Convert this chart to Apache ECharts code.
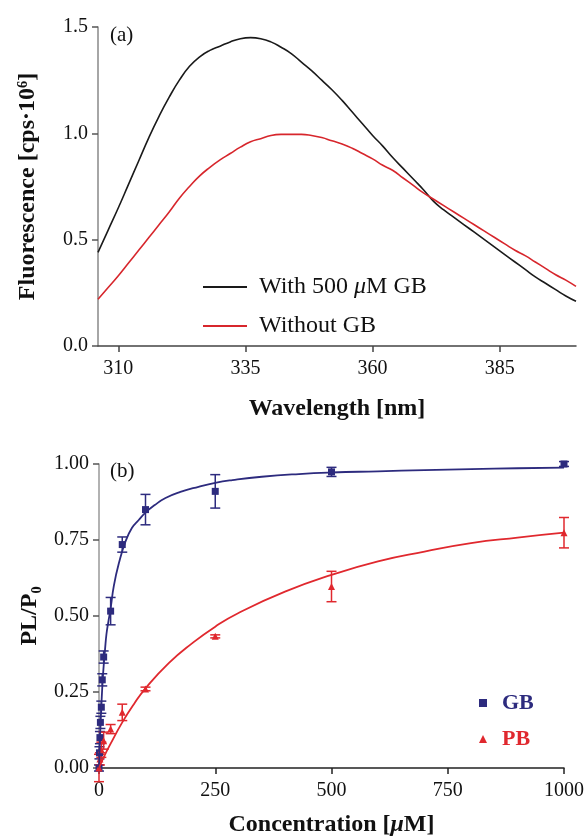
<!DOCTYPE html>
<html>
<head>
<meta charset="utf-8">
<script src="https://cdn.jsdelivr.net/npm/echarts@6/dist/echarts.min.js"></script>
<style>html,body{margin:0;padding:0;background:#fff}#c{width:587px;height:838px}</style>
</head>
<body>
<div id="c"></div>
<script>
// ---- Panel (a): fluorescence spectra ----
const wavelength = [306,308,310,312,314,316,318,320,322,324,326,328,330,332,334,336,338,340,342,344,346,348,350,352,354,356,358,360,362,364,366,368,370,372,374,376,378,380,382,384,386,388,390,392,394,396,398,400];
const withGB = [0.44,0.545,0.65,0.76,0.87,0.98,1.08,1.17,1.25,1.315,1.36,1.39,1.41,1.43,1.445,1.45,1.445,1.43,1.405,1.375,1.335,1.295,1.25,1.205,1.155,1.10,1.045,0.99,0.94,0.885,0.835,0.785,0.735,0.68,0.64,0.605,0.57,0.535,0.50,0.465,0.43,0.395,0.36,0.325,0.295,0.265,0.235,0.21];
const withoutGB = [0.22,0.275,0.33,0.39,0.45,0.51,0.57,0.63,0.695,0.75,0.80,0.84,0.875,0.905,0.935,0.96,0.975,0.99,0.995,0.995,0.995,0.99,0.98,0.965,0.95,0.93,0.905,0.88,0.85,0.825,0.79,0.755,0.72,0.69,0.66,0.63,0.60,0.57,0.54,0.51,0.48,0.45,0.425,0.395,0.365,0.335,0.31,0.28];
const wlTicks = [310,335,360,385];

// ---- Panel (b): binding data ----
const gbConc = [0,1,2,3,5,7,10,25,50,100,250,500,1000];
const gbMean = [0.0,0.05,0.10,0.15,0.20,0.29,0.365,0.516,0.735,0.85,0.91,0.974,1.0];
const gbErr  = [0.01,0.02,0.02,0.02,0.02,0.02,0.02,0.045,0.025,0.05,0.055,0.015,0.008];
const pbConc = [0,2,5,10,25,50,100,250,500,1000];
const pbMean = [0.0,0.03,0.06,0.09,0.128,0.183,0.26,0.433,0.597,0.774];
const pbErr  = [0.045,0.02,0.025,0.028,0.015,0.027,0.006,0.005,0.05,0.05];
// fitted curves
const gbFitConc = [0,1,2,4,6,8,10,13,16,20,25,32,43,57,71,85,100,120,143,175,214,250,287,350,430,500,600,700,800,900,1000];
const gbFitVal  = [0,0.05,0.095,0.17,0.235,0.29,0.335,0.39,0.44,0.48,0.525,0.60,0.675,0.745,0.79,0.815,0.84,0.865,0.888,0.908,0.925,0.938,0.947,0.958,0.967,0.972,0.976,0.980,0.983,0.986,0.988];
const pbFitConc = [0,10,25,50,75,100,150,200,250,300,400,500,600,700,800,900,1000];
const pbFitVal  = [0,0.035,0.08,0.15,0.21,0.262,0.345,0.41,0.465,0.51,0.58,0.635,0.68,0.712,0.74,0.758,0.774];

const SERIF = '"Liberation Serif","Times New Roman",serif';
const NAVY = '#2d2b7e';
const RED2 = '#e0282e';

function zip(a,b){return a.map((v,i)=>[v,b[i]]);}
function errData(c,m,e){return c.map((v,i)=>[v,m[i]-e[i],m[i]+e[i]]);}
function errRender(color){
  return function(params, api){
    const x = api.value(0);
    const lo = api.coord([x, api.value(1)]);
    const hi = api.coord([x, api.value(2)]);
    const w = 5;
    const st = {stroke: color, lineWidth: 1.5};
    return {type:'group', children:[
      {type:'line', shape:{x1:lo[0],y1:lo[1],x2:hi[0],y2:hi[1]}, style:st},
      {type:'line', shape:{x1:lo[0]-w,y1:lo[1],x2:lo[0]+w,y2:lo[1]}, style:st},
      {type:'line', shape:{x1:hi[0]-w,y1:hi[1],x2:hi[0]+w,y2:hi[1]}, style:st}
    ]};
  };
}

const tickLbl = {fontFamily: SERIF, fontSize: 20, color:'#111'};
const nameStyle = {fontFamily: SERIF, fontSize: 24, fontWeight:'bold', color:'#111',
  rich:{i:{fontFamily: SERIF, fontSize:24, fontWeight:'bold', fontStyle:'italic', color:'#111'}}};

const chart = echarts.init(document.getElementById('c'), null, {renderer:'canvas'});
chart.setOption({
  animation:false,
  backgroundColor:'#fff',
  grid:[
    {left:98, right:11, top:27, height:319},
    {left:99, right:23, top:464, height:305}
  ],
  xAxis:[
    {gridIndex:0, type:'value', min:306, max:400,
     name:'Wavelength [nm]', nameLocation:'middle', nameGap:51, nameTextStyle:nameStyle,
     axisLine:{lineStyle:{color:'#444', width:1.5}},
     axisTick:{show:true, length:6, customValues:wlTicks, lineStyle:{color:'#444', width:1.5}},
     axisLabel:{customValues:wlTicks, margin:13, ...tickLbl},
     splitLine:{show:false}},
    {gridIndex:1, type:'value', min:0, max:1000, interval:250,
     name:'Concentration [{i|μ}M]', nameLocation:'middle', nameGap:45, nameTextStyle:nameStyle,
     axisLine:{onZero:false, lineStyle:{color:'#222', width:1.5}},
     axisTick:{length:6, lineStyle:{color:'#222', width:1.5}},
     axisLabel:{margin:13, formatter:v=>String(v), ...tickLbl},
     splitLine:{show:false}}
  ],
  yAxis:[
    {gridIndex:0, type:'value', min:0, max:1.5, interval:0.5,
     name:'Fluorescence [cps·10⁶]', nameLocation:'middle', nameGap:58, nameTextStyle:nameStyle,
     axisLine:{show:true, lineStyle:{color:'#888', width:1.5}},
     axisTick:{show:true, length:6, lineStyle:{color:'#555', width:1.5}},
     axisLabel:{margin:10, formatter:v=>v.toFixed(1), ...tickLbl},
     splitLine:{show:false}},
    {gridIndex:1, type:'value', min:0, max:1, interval:0.25,
     name:'PL/P₀', nameLocation:'middle', nameGap:57, nameTextStyle:nameStyle,
     axisLine:{show:true, lineStyle:{color:'#999', width:1.5}},
     axisTick:{show:true, length:6, lineStyle:{color:'#555', width:1.5}},
     axisLabel:{margin:10, formatter:v=>v.toFixed(2), ...tickLbl},
     splitLine:{show:false}}
  ],
  legend:[
    {left:198, top:270, orient:'vertical', icon:'rect', itemWidth:44, itemHeight:2, itemGap:15,
     data:['With 500 μM GB','Without GB'],
     formatter:n=>n.replace('μ','{i|μ}'),
     textStyle:{fontFamily:SERIF, fontSize:24, color:'#111', padding:[0,0,0,7],
       rich:{i:{fontFamily:SERIF, fontSize:24, fontStyle:'italic', color:'#111'}}}},
    {left:474, top:687, orient:'vertical', itemWidth:8, itemHeight:8, itemGap:14,
     data:[{name:'GB', icon:'rect', textStyle:{color:NAVY}}, {name:'PB', icon:'triangle', textStyle:{color:RED2}}],
     textStyle:{fontFamily:SERIF, fontSize:22, fontWeight:'bold', padding:[0,0,0,10]}}
  ],
  graphic:[
    {type:'text', left:110, top:25, style:{text:'(a)', font:'21px "Liberation Serif", serif', fill:'#111'}},
    {type:'text', left:110, top:461, style:{text:'(b)', font:'21px "Liberation Serif", serif', fill:'#111'}}
  ],
  series:[
    {name:'With 500 μM GB', type:'line', xAxisIndex:0, yAxisIndex:0, data:zip(wavelength, withGB),
     smooth:true, showSymbol:false, symbol:'none', lineStyle:{color:'#1a1a1a', width:1.6}, itemStyle:{color:'#1a1a1a'}},
    {name:'Without GB', type:'line', xAxisIndex:0, yAxisIndex:0, data:zip(wavelength, withoutGB),
     smooth:true, showSymbol:false, symbol:'none', lineStyle:{color:'#d7262c', width:1.6}, itemStyle:{color:'#d7262c'}},

    {name:'GB fit', type:'line', xAxisIndex:1, yAxisIndex:1, data:zip(gbFitConc, gbFitVal),
     smooth:true, showSymbol:false, symbol:'none', lineStyle:{color:NAVY, width:1.8}},
    {name:'PB fit', type:'line', xAxisIndex:1, yAxisIndex:1, data:zip(pbFitConc, pbFitVal),
     smooth:true, showSymbol:false, symbol:'none', lineStyle:{color:RED2, width:1.8}},
    {name:'GB err', type:'custom', xAxisIndex:1, yAxisIndex:1, data:errData(gbConc,gbMean,gbErr),
     renderItem:errRender(NAVY), clip:false, encode:{x:0, y:[1,2]}},
    {name:'PB err', type:'custom', xAxisIndex:1, yAxisIndex:1, data:errData(pbConc,pbMean,pbErr),
     renderItem:errRender(RED2), clip:false, encode:{x:0, y:[1,2]}},
    {name:'GB', type:'scatter', xAxisIndex:1, yAxisIndex:1, data:zip(gbConc,gbMean),
     symbol:'rect', symbolSize:7, itemStyle:{color:NAVY, opacity:1}, clip:false},
    {name:'PB', type:'scatter', xAxisIndex:1, yAxisIndex:1, data:zip(pbConc,pbMean),
     symbol:'triangle', symbolSize:7, itemStyle:{color:RED2, opacity:1}, clip:false}
  ]
});
</script>
</body>
</html>
